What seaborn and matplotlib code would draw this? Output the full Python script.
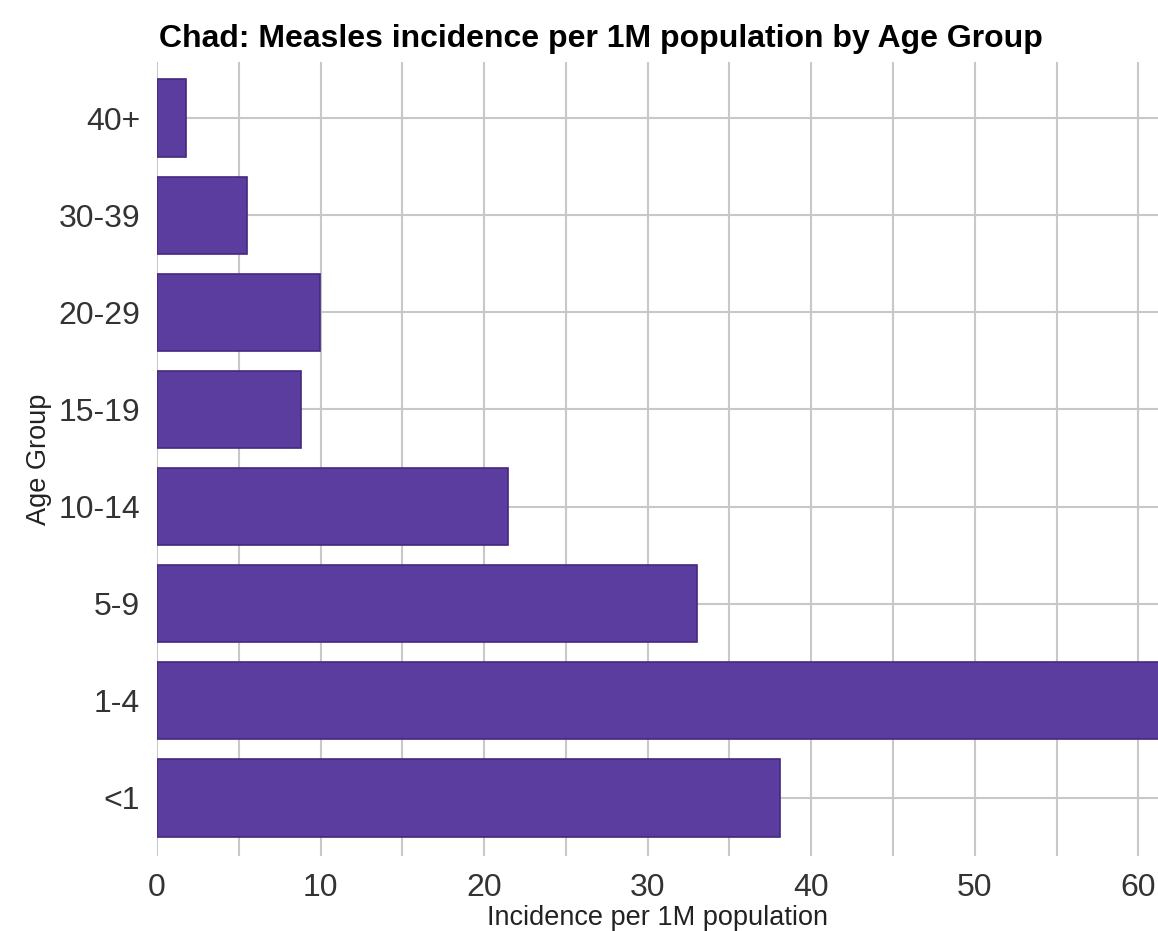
import seaborn as sns
import pandas as pd
import matplotlib.pyplot as plt

age_groups = ['40+', '30-39', '20-29', '15-19', '10-14', '5-9', '1-4', '<1']
incidence = [1.8, 5.5, 9.95, 8.8, 21.45, 33.0, 61.5, 38.1]

df = pd.DataFrame({'Age Group': age_groups, 'Incidence': incidence})

sns.set_theme(style='whitegrid')
plt.rcParams['font.family'] = ['Liberation Sans', 'DejaVu Sans']

fig = plt.figure(figsize=(11.58, 9.31), dpi=100)
ax = fig.add_axes([0.1356, 0.0806, 0.8644, 0.8528])

sns.barplot(data=df, x='Incidence', y='Age Group', order=age_groups,
            color='#5b3c9f', saturation=1, width=0.8,
            edgecolor='#45297f', linewidth=1.2, ax=ax)

ax.set_xlim(0, 61.2)
ax.set_ylim(7.6, -0.58)
ax.set_xticks(range(0, 61, 10))
ax.set_xticks(range(5, 61, 10), minor=True)
ax.grid(True, which='both', axis='x', color='#c8c8c8', linewidth=1.5)
ax.grid(True, axis='y', color='#c8c8c8', linewidth=1.5)
ax.set_axisbelow(True)
for s in ax.spines.values():
    s.set_visible(False)

ax.tick_params(axis='both', which='both', length=0, labelsize=23,
               labelcolor='#333333', pad=12)
ax.set_xlabel('Incidence per 1M population', fontsize=19.5, color='#222222', labelpad=2)
ax.set_ylabel('Age Group', fontsize=19.5, color='#222222', labelpad=5)
fig.suptitle('Chad: Measles incidence per 1M population by Age Group',
             fontsize=23, fontweight='bold', color='black', x=0.519, y=0.974)

fig.savefig('out.png', dpi=100)
